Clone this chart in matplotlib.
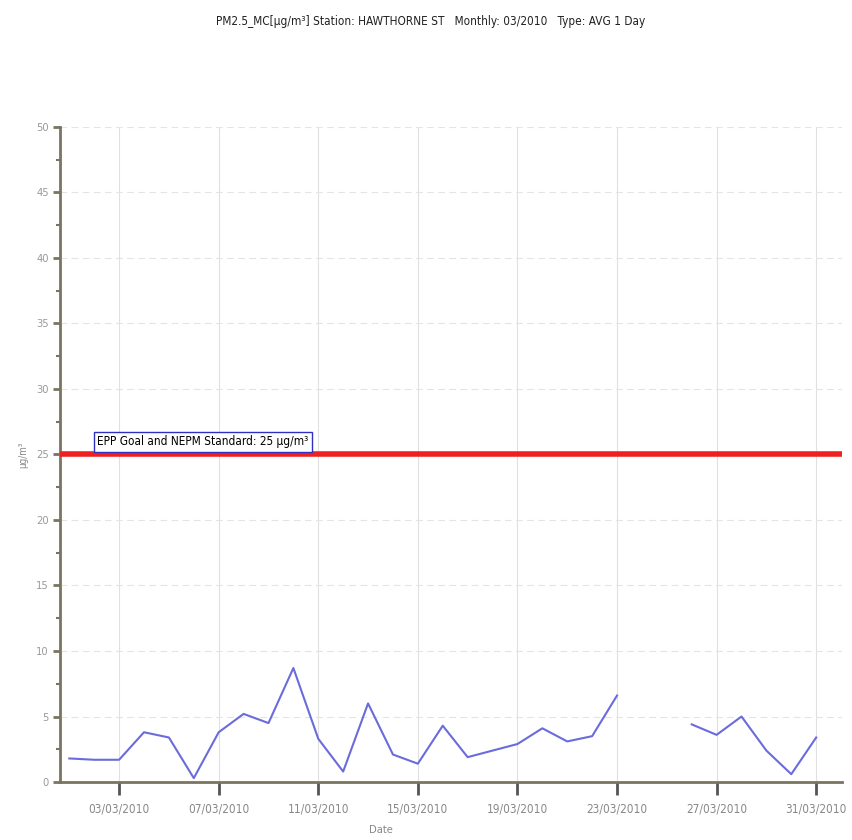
import matplotlib
matplotlib.use('Agg')
import matplotlib.pyplot as plt
import matplotlib.dates as mdates
import numpy as np
import datetime as dt

plt.rcParams['font.family'] = ['DejaVu Sans']
plt.rcParams['font.stretch'] = 'condensed'

# daily PM2.5 averages, March 2010 (nan = no data)
days = list(range(1, 32))
pm25 = [1.8, 1.7, 1.7, 3.8, 3.4, 0.3, 3.8, 5.2, 4.5, 8.7,
        3.3, 0.8, 6.0, 2.1, 1.4, 4.3, 1.9, 2.4, 2.9, 4.1,
        3.1, 3.5, 6.6, np.nan, np.nan, 4.4, 3.6, 5.0, 2.4, 0.6,
        3.4]
standard = 25
tick_days = [3, 7, 11, 15, 19, 23, 27, 31]

dates = [dt.datetime(2010, 3, d) for d in days]

fig = plt.figure(figsize=(8.52, 8.4), dpi=100)
ax = fig.add_axes([0.0704, 0.069, 0.918, 0.780])

axis_col = '#7a7460'
ax.plot(dates, pm25, color='#6b6bdc', lw=1.5, zorder=3)
ax.axhline(standard, color='#ee2020', lw=4, zorder=4)

ax.set_ylim(0, 50)
ax.set_xlim(dt.datetime(2010, 2, 28, 15), dt.datetime(2010, 4, 1, 1))
ax.set_yticks(np.arange(0, 51, 5))
ax.set_yticks(np.arange(2.5, 50, 5), minor=True)
ax.set_xticks([dt.datetime(2010, 3, d) for d in tick_days])
ax.xaxis.set_major_formatter(mdates.DateFormatter('%d/%m/%Y'))

for s in ['top', 'right']:
    ax.spines[s].set_visible(False)
for s in ['left', 'bottom']:
    ax.spines[s].set_color(axis_col)
    ax.spines[s].set_linewidth(2)

ax.tick_params(axis='y', which='major', direction='out', length=5, width=2,
               color=axis_col, labelcolor='#999999', labelsize=8, pad=3)
ax.tick_params(axis='y', which='minor', direction='out', length=3, width=1.5,
               color=axis_col)
ax.tick_params(axis='x', which='major', direction='out', length=9, width=2,
               color='#555555', labelcolor='#888888', labelsize=8.5, pad=6)

ax.grid(axis='y', color='#e4e4e4', lw=0.8, ls=(0, (6, 4)))
ax.grid(axis='x', color='#e0e0e0', lw=0.8, ls='-')
ax.set_axisbelow(True)

ax.set_xlabel('Date', color='#888888', fontsize=8)
ax.xaxis.set_label_coords(0.41, -0.065)
ax.set_ylabel('µg/m³', color='#888888', fontsize=7)
ax.yaxis.set_label_coords(-0.04, 0.5)

ax.text(dt.datetime(2010, 3, 2, 3), standard + 0.95,
        'EPP Goal and NEPM Standard: 25 µg/m³', fontsize=8.5, color='black',
        va='center', ha='left', zorder=5,
        bbox=dict(boxstyle='square,pad=0.3', fc='white', ec='#3030c0', lw=1))

fig.text(0.505, 0.975, 'PM2.5_MC[µg/m³] Station: HAWTHORNE ST   Monthly: 03/2010   Type: AVG 1 Day',
         ha='center', va='center', fontsize=8.5, color='#222222')

fig.savefig('out.png', dpi=100, facecolor='white')
